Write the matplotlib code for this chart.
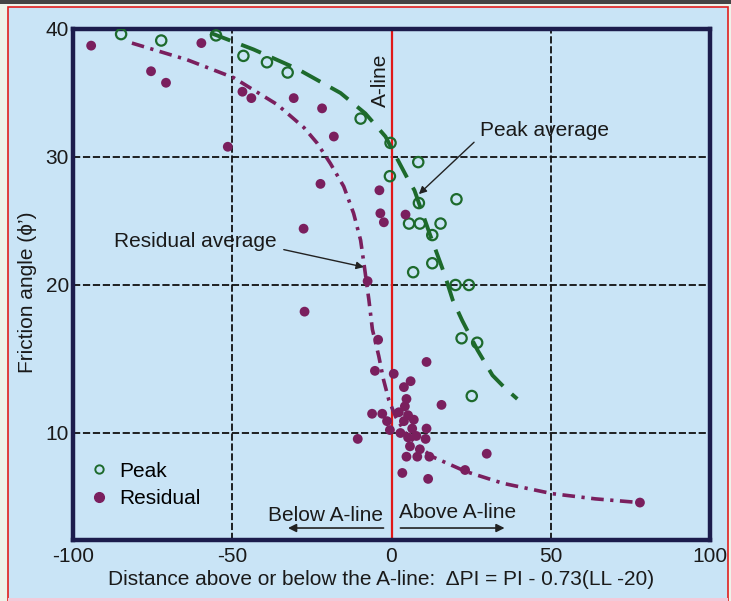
import numpy as np
import matplotlib
matplotlib.use("Agg")
import matplotlib.pyplot as plt
from matplotlib.patches import Rectangle
from matplotlib.lines import Line2D

plt.rcParams['font.family'] = ['Liberation Sans', 'DejaVu Sans']
plt.rcParams['axes.unicode_minus'] = False

# ---- data ----
peak_x = [-84.9, -72.3, -55.1, -46.5, -39.1, -32.6, -9.7, -0.3, 8.4, -0.5, 8.6, 20.4,
          5.5, 8.9, 15.4, 12.8, 12.8, 6.8, 20.1, 24.3, 22.0, 26.9, 25.2]
peak_y = [39.6, 39.1, 39.5, 37.9, 37.4, 36.6, 33.0, 31.1, 29.6, 28.5, 26.4, 26.7,
          24.8, 24.8, 24.8, 23.9, 21.7, 21.0, 20.0, 20.0, 16.4, 16.1, 12.5]

res_x = [-94.3, -75.5, -70.8, -59.7, -46.8, -44.0, -30.7, -21.8, -18.1, -51.4, -22.3, -27.6,
         -27.3, -10.6, -3.8, -3.5, -2.4, 4.4, -4.2, -5.2, 0.7, 3.9, 6.0, 11.0, 4.7, 4.2, 15.7,
         -6.1, -2.9, -1.4, -0.5, 2.3, 5.2, 7.0, 3.9, 6.5, 11.0, 2.8, 5.2, 7.8, 10.7, 5.8, 8.9,
         8.1, 11.9, 4.7, 29.9, 3.4, 11.5, 23.1, 78.0, -7.5]
res_y = [38.7, 36.7, 35.8, 38.9, 35.1, 34.6, 34.6, 33.8, 31.6, 30.8, 27.9, 24.4,
         18.2, 9.6, 27.4, 25.6, 24.9, 25.5, 16.3, 14.2, 14.0, 13.1, 13.5, 14.8, 12.3, 11.8, 11.9,
         11.3, 11.3, 10.8, 10.2, 11.4, 11.2, 10.9, 10.8, 10.3, 10.3, 10.0, 9.7, 9.8, 9.6, 9.1, 8.9,
         8.4, 8.4, 8.4, 8.6, 7.3, 6.9, 7.5, 5.3, 20.3]

peak_avg_x = [-56.9, -43.3, -29.7, -16.0, -8.2, -1.9, 5.3, 7.2, 12.0, 16.7, 19.2, 22.2,
              27.0, 31.7, 35.8, 39.5]
peak_avg_y = [39.7, 38.4, 36.9, 35.0, 33.4, 31.6, 28.2, 27.4, 24.0, 20.8, 19.0, 17.6,
              15.6, 13.9, 13.0, 12.3]

res_avg_x = [-81.5, -64.2, -49.6, -35.9, -27.5, -23.4, -19.2, -15.0, -11.9, -9.7, -8.5,
             -7.1, -6.0, -4.0, -2.5, -0.8, 1.3, 4.4, 8.5, 12.8, 23.3, 35.0, 50.5, 64.0, 77.8]
res_avg_y = [38.9, 37.6, 36.2, 34.1, 32.3, 31.1, 29.5, 27.7, 25.6, 23.5, 21.4,
             19.0, 17.0, 15.2, 13.6, 12.2, 11.1, 10.0, 9.1, 8.4, 7.4, 6.6, 5.9, 5.55, 5.3]

x_ticks = [-100, -50, 0, 50, 100]
y_ticks = [10, 20, 30, 40]

# ---- styling ----
W, H = 731, 601
BG = '#c9e4f6'
PURPLE = '#7a1f5e'
GREEN = '#1d6a2c'
NAVY = '#1c1c4c'
TXT = '#1a1a1a'
FS = 15

fig = plt.figure(figsize=(W / 100, H / 100), dpi=100, facecolor='#eef3ea')

# outer panel with red border and dark top band
fig.patches.append(Rectangle((0, 1 - 4 / H), 1, 4 / H, transform=fig.transFigure,
                             facecolor='#444444', edgecolor='none', zorder=-10))
fig.patches.append(Rectangle((8 / W, 0), (728 - 8) / W, (H - 7) / H, transform=fig.transFigure,
                             facecolor=BG, edgecolor='#e02020', linewidth=1.2, zorder=-9))
fig.patches.append(Rectangle((8 / W, 0), (728 - 8) / W, 3 / H, transform=fig.transFigure,
                             facecolor='#f3c9d9', edgecolor='none', zorder=-8))

ax = fig.add_axes([73 / W, 1 - 540 / H, (710 - 73) / W, (540 - 29) / H])
ax.set_facecolor(BG)

# non-uniform vertical scale as drawn in the original figure
y_knots = np.array([-10.0, 10.0, 20.0, 30.0, 40.0, 60.0])
p_knots = -np.array([729.0, 433.0, 285.0, 157.0, 29.0, -227.0])


def fwd(v):
    return np.interp(v, y_knots, p_knots)


def inv(v):
    return np.interp(v, p_knots, y_knots)


ax.set_yscale('function', functions=(fwd, inv))
ax.set_xlim(-100, 100)
ax.set_ylim(inv(-540.0), 40)

ax.set_xticks(x_ticks)
ax.set_yticks(y_ticks)
ax.tick_params(length=0, labelsize=FS, colors=TXT, pad=3)
ax.tick_params(axis='x', pad=5)
ax.minorticks_off()

for s in ax.spines.values():
    s.set_color(NAVY)
    s.set_linewidth(3.2)

# grid
for gx in [-50, 50]:
    ax.axvline(gx, color='#111111', lw=1.3, ls=(0, (4, 1.5)), zorder=1)
for gy in [10, 20, 30]:
    ax.axhline(gy, color='#111111', lw=1.3, ls=(0, (4, 1.5)), zorder=1)

ax.axvline(0, color='#e01818', lw=1.6, zorder=2)

# curves
ax.plot(peak_avg_x, peak_avg_y, color=GREEN, lw=2.8, ls=(0, (5.5, 3.0)), zorder=3)
ax.plot(res_avg_x, res_avg_y, color=PURPLE, lw=2.6, ls=(0, (3.5, 1.8, 0.9, 1.8)), zorder=3)

# points
ax.scatter(peak_x, peak_y, s=55, facecolors='none', edgecolors=GREEN, linewidths=1.6, zorder=4)
ax.scatter(res_x, res_y, s=50, color=PURPLE, edgecolors='none', zorder=4)

# legend
handles = [Line2D([], [], ls='none', marker='o', markersize=6, markerfacecolor='none',
                  markeredgecolor=GREEN, markeredgewidth=1.4, label='Peak'),
           Line2D([], [], ls='none', marker='o', markersize=7, color=PURPLE, label='Residual')]
ax.legend(handles=handles, loc='lower left', bbox_to_anchor=(0.002, 0.038), frameon=False,
          fontsize=FS, handletextpad=0.35, labelspacing=0.4, handlelength=1.2,
          borderaxespad=0.2)

# annotations
ax.text(-3.6, 36.0, 'A-line', rotation=90, ha='center', va='center', fontsize=FS, color=TXT)

ax.annotate('Peak average', xy=(8.6, 27.1), xytext=(48.0, 32.1), fontsize=FS, ha='center',
            va='center', color=TXT,
            arrowprops=dict(arrowstyle='-|>', color='#222222', lw=1.0, mutation_scale=11,
                            shrinkA=3, shrinkB=0, relpos=(0.0, 0.15)))
ax.annotate('Residual average', xy=(-8.7, 21.4), xytext=(-61.5, 23.4), fontsize=FS,
            ha='center', va='center', color=TXT,
            arrowprops=dict(arrowstyle='-|>', color='#222222', lw=1.0, mutation_scale=11,
                            shrinkA=3, shrinkB=0, relpos=(1.0, 0.15)))

ax.text(-20.8, 4.45, 'Below A-line', ha='center', va='center', fontsize=FS, color=TXT)
ax.text(20.8, 4.6, 'Above A-line', ha='center', va='center', fontsize=FS, color=TXT)
ax.annotate('', xy=(-32.5, 3.58), xytext=(-2.5, 3.58),
            arrowprops=dict(arrowstyle='-|>', color='#222222', lw=1.2, mutation_scale=12,
                            shrinkA=0, shrinkB=0))
ax.annotate('', xy=(35.5, 3.58), xytext=(2.8, 3.58),
            arrowprops=dict(arrowstyle='-|>', color='#222222', lw=1.2, mutation_scale=12,
                            shrinkA=0, shrinkB=0))

ax.set_xlabel('Distance above or below the A-line:  \u0394PI = PI - 0.73(LL -20)',
              fontsize=FS, color=TXT)
ax.xaxis.set_label_coords(0.4835, -0.059)
ax.set_ylabel('Friction angle (\u03d5\u2019)', fontsize=FS, color=TXT)
ax.yaxis.set_label_coords(-0.056, 0.485)

fig.savefig('out.png', dpi=100, facecolor=fig.get_facecolor())
